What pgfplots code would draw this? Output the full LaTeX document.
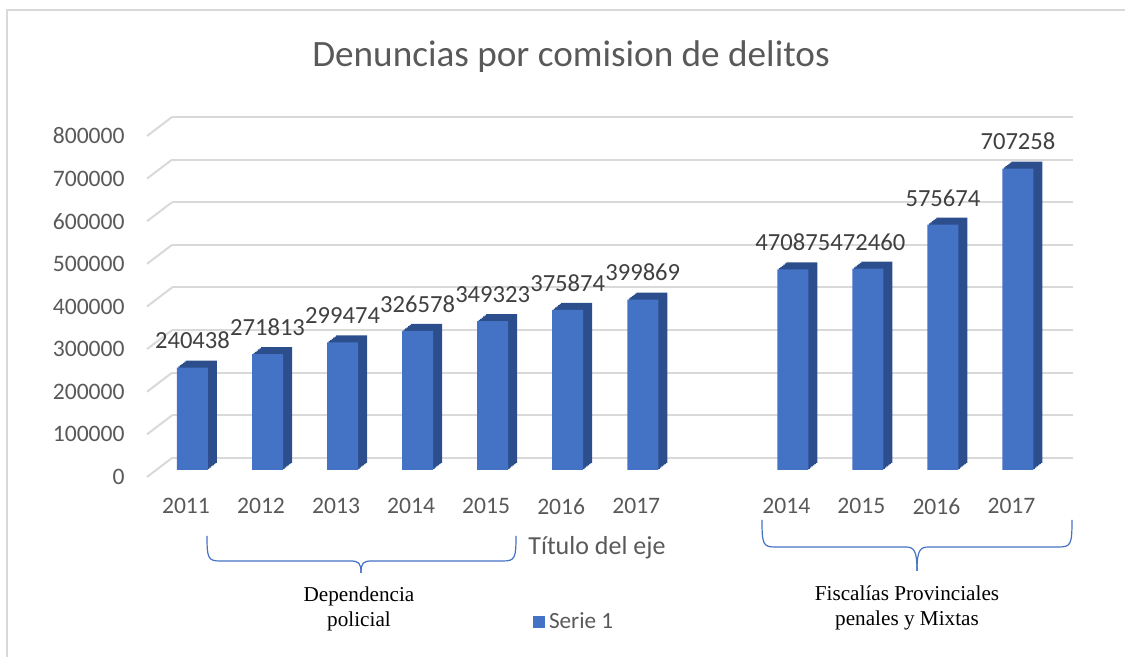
\documentclass[border=0pt]{standalone}
\usepackage{pgfplots}
\usepackage{pgfplotstable}
\pgfplotsset{compat=1.18}
\usepackage{fontspec}
\setmainfont{Carlito}
\newfontfamily\timesf{Liberation Serif}
\definecolor{barfront}{HTML}{4472C4}
\definecolor{barside}{HTML}{2C4E8C}
\definecolor{gridc}{HTML}{D9D9D9}
\definecolor{tickc}{HTML}{595959}
\definecolor{labc}{HTML}{404040}
\definecolor{bracec}{HTML}{4472C4}
\pgfplotstableread{
x y lab
0 240438 240438
1 271813 271813
2 299474 299474
3 326578 326578
4 349323 349323
5 375874 375874
6 399869 399869
8 470875 470875
9 472460 472460
10 575674 575674
11 707258 707258
}\datatab
\begin{document}
\begin{tikzpicture}
\useasboundingbox (0,0) rectangle (562.5pt,328.5pt);
\begin{axis}[
  at={(78pt,93.5pt)}, anchor=south west,
  scale only axis, width=450.5pt, height=170.5pt,
  xmin=-0.486, xmax=11.52, ymin=0, ymax=800000,
  axis line style={draw=none},
  major tick length=0pt,
  ymajorgrids,
  grid style={gridc, line width=1pt, xshift=8pt, yshift=6pt},
  xtick={0,1,2,3,4,5,6,7,8,9,10,11},
  xticklabels={2011,2012,2013,2014,2015,2016,2017,{},2014,2015,2016,2017},
  ytick={0,100000,200000,300000,400000,500000,600000,700000,800000},
  yticklabels={0,100000,200000,300000,400000,500000,600000,700000,800000},
  scaled y ticks=false,
  xticklabel style={anchor=north, inner sep=0pt, yshift=-14pt, xshift=-3.25pt, font=\fontsize{11.8pt}{14pt}\selectfont, text=tickc},
  yticklabel style={anchor=east, inner sep=0pt, xshift=-15.5pt, yshift=-3.5pt, font=\fontsize{11.8pt}{14pt}\selectfont, text=tickc},
  ybar, bar width=15.5pt,
  clip=false,
  legend style={draw=none, fill=none, at={(0.418,-0.446)}, anchor=west, inner sep=0pt,
    font=\fontsize{11.6pt}{14pt}\selectfont, text=tickc, legend cell align=left},
  legend image code/.code={\fill[barfront] (0pt,-3pt) rectangle (6pt,3pt);},
]
\pgfplotsinvokeforeach{0,100000,200000,300000,400000,500000,600000,700000,800000}{
  \draw[gridc, line width=1pt] (axis cs:-0.486,#1) ++(-4.5pt,-3.5pt) -- ++(12.5pt,9.5pt);
}
\pgfplotsinvokeforeach{6,5,4,3,2,1}{
\addplot[fill=barside, draw=none, xshift={0.75pt*#1}, yshift={0.583pt*#1}, forget plot]
  table[x=x, y=y] {\datatab};
}
\addplot[fill=barfront, draw=none,
  point meta=explicit symbolic,
  nodes near coords,
  every node near coord/.append style={anchor=south, inner sep=0pt, yshift=9pt,
    font=\fontsize{12.3pt}{14pt}\selectfont, text=labc}]
  table[x=x, y=y, meta=lab] {\datatab};
\addlegendentry{Serie 1}
\end{axis}
\begin{scope}[x=0.5pt, y=-0.5pt, shift={(0pt,328.5pt)}]
  % frame
  \draw[gridc, line width=1pt] (7,657) -- (7,10) -- (1125,10);
  % title
  \node[text=tickc, font=\fontsize{18.6pt}{22pt}\selectfont] at (571,57) {Denuncias por comision de delitos};
  % axis title
  \node[text=tickc, font=\fontsize{13pt}{16pt}\selectfont, anchor=west, inner sep=0pt] at (528,548) {Título del eje};
  % braces
  \draw[bracec, line width=0.6pt] (207,536) .. controls (207,558) and (208,561) .. (220,561) -- (350,561)
     .. controls (359,561) and (361,563) .. (361,573);
  \draw[bracec, line width=0.6pt] (516,536) .. controls (516,558) and (515,561) .. (503,561) -- (372,561)
     .. controls (363,561) and (361,563) .. (361,573);
  \draw[bracec, line width=0.6pt] (762,520) .. controls (762,544) and (763,547) .. (775,547) -- (905,547)
     .. controls (914,547) and (917,550) .. (917,571);
  \draw[bracec, line width=0.6pt] (1072,520) .. controls (1072,544) and (1071,547) .. (1059,547) -- (929,547)
     .. controls (920,547) and (917,550) .. (917,571);
  % group labels
  \node[font=\timesf\fontsize{10.6pt}{12.5pt}\selectfont, align=center] at (359,609) {Dependencia\\policial};
  \node[font=\timesf\fontsize{10.6pt}{12.5pt}\selectfont, align=center] at (907,608) {Fiscalías Provinciales\\penales y Mixtas};
\end{scope}
\end{tikzpicture}
\end{document}
